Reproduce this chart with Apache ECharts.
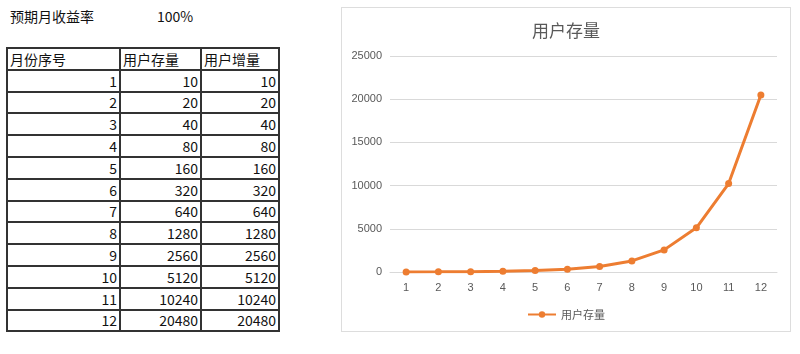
<!DOCTYPE html>
<html>
<head>
<meta charset="utf-8">
<script src="https://cdn.jsdelivr.net/npm/echarts@6/dist/echarts.min.js"></script>
<style>
  html, body { margin: 0; padding: 0; background: #fff; width: 800px; height: 354px; overflow: hidden; }
  body { font-family: "Noto Sans CJK SC", "Noto Sans", sans-serif; color: #111; position: relative; }
  .rate { position: absolute; top: 6px; left: 10px; font-size: 14px; }
  .rate span { position: absolute; left: 147px; top: 0; }
  table { position: absolute; left: 6px; top: 47px; width: 272px; border-collapse: collapse; table-layout: fixed; font-size: 14px; }
  td { border: 2px solid #333; height: 21.8px; padding: 0 2px; line-height: 18px; text-align: right; box-sizing: border-box; }
  td.h { text-align: left; }
  #chart { position: absolute; left: 341px; top: 7px; width: 450px; height: 325px; border: 1px solid #ddd; box-sizing: border-box; }
</style>
</head>
<body>
<div class="rate">预期月收益率<span id="rateVal"></span></div>
<table id="tbl"></table>
<div id="chart"></div>
<script>
// 数据
const rateText = '100%';
const headers = ['月份序号', '用户存量', '用户增量'];
const months = ['1', '2', '3', '4', '5', '6', '7', '8', '9', '10', '11', '12'];
const userStock = [10, 20, 40, 80, 160, 320, 640, 1280, 2560, 5120, 10240, 20480];
const userGrowth = [10, 20, 40, 80, 160, 320, 640, 1280, 2560, 5120, 10240, 20480];
const seriesName = '用户存量';

document.getElementById('rateVal').textContent = rateText;

// 表格
const widths = [113, 81, 78];
let html = '<colgroup>' + widths.map(w => `<col style="width:${w}px">`).join('') + '</colgroup>';
html += '<tr>' + headers.map(h => `<td class="h">${h}</td>`).join('') + '</tr>';
months.forEach((m, i) => {
  html += `<tr><td>${m}</td><td>${userStock[i]}</td><td>${userGrowth[i]}</td></tr>`;
});
document.getElementById('tbl').innerHTML = html;

const chart = echarts.init(document.getElementById('chart'));
const option = {
  color: ['#ED7D31'],
  title: {
    text: seriesName,
    left: 'center',
    top: 9,
    textStyle: { color: '#595959', fontSize: 17, fontWeight: 'normal', fontFamily: 'Noto Sans CJK SC' }
  },
  legend: {
    data: [seriesName],
    bottom: 6,
    itemWidth: 28,
    itemHeight: 8,
    textStyle: { color: '#595959', fontSize: 11, fontFamily: 'Noto Sans CJK SC' }
  },
  grid: { left: 48, right: 13, top: 48, bottom: 59 },
  xAxis: {
    type: 'category',
    data: months,
    boundaryGap: true,
    axisLine: { lineStyle: { color: '#d9d9d9' } },
    axisTick: { show: false },
    axisLabel: { color: '#595959', fontSize: 11, margin: 10 }
  },
  yAxis: {
    type: 'value',
    min: 0,
    max: 25000,
    interval: 5000,
    axisLine: { show: false },
    axisTick: { show: false },
    axisLabel: { color: '#595959', fontSize: 11, margin: 8, formatter: v => String(v) },
    splitLine: { lineStyle: { color: '#d9d9d9' } }
  },
  series: [{
    name: seriesName,
    type: 'line',
    data: userStock,
    symbol: 'circle',
    symbolSize: 7,
    lineStyle: { width: 3 },
    animation: false
  }]
};
chart.setOption(option);
</script>
</body>
</html>
